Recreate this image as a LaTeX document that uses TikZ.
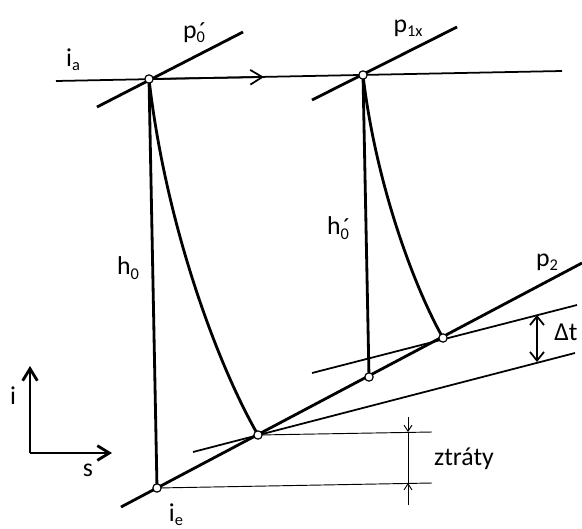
\documentclass[tikz,border=0pt]{standalone}
\usepackage{fontspec}
\setmainfont{Carlito}
\usetikzlibrary{arrows.meta}

\newcommand{\ix}[1]{\raisebox{-0.35ex}{\fontsize{14}{14}\selectfont #1}}
\newcommand{\pr}{\rlap{\raisebox{-0.1ex}{\fontsize{21}{21}\selectfont\kern0.1em ´}}}

\tikzset{
  thickline/.style={line width=2.4pt},
  thinline/.style={line width=1.5pt},
  dimline/.style={line width=0.8pt},
  pt/.style={circle, draw, fill=white, line width=1pt, inner sep=0pt, minimum size=0.25cm},
  lbl/.style={font=\fontsize{22}{26}\selectfont, inner sep=0pt}
}

\begin{document}
\begin{tikzpicture}[x=0.03cm, y=-0.03cm, >={Straight Barb[length=3.6mm, width=4.4mm]}]
  \useasboundingbox (0,0) rectangle (582,529);

  % state points
  \coordinate (A) at (149,79);
  \coordinate (C) at (363,75);
  \coordinate (E) at (157,488);
  \coordinate (B) at (258,435);
  \coordinate (D) at (369,377);
  \coordinate (F) at (443,338);

  % i_a line
  \coordinate (ia0) at (56,81);
  \coordinate (ia1) at (562,71);
  \coordinate (iamid) at (264,77);
  \draw[thinline] (ia0) -- (ia1);
  \draw[thinline, ->] (A) -- (iamid);

  % isobars
  \coordinate (p0a) at (97,107);
  \coordinate (p0b) at (243,32);
  \coordinate (p1a) at (312,100);
  \coordinate (p1b) at (457,27);
  \coordinate (p2a) at (121,507);
  \coordinate (p2b) at (582,263);
  \draw[thickline] (p0a) -- (p0b);
  \draw[thickline] (p1a) -- (p1b);
  \draw[thickline] (p2a) -- (p2b);

  \coordinate (up0) at (312,373);
  \coordinate (up1) at (577,305);
  \coordinate (lo0) at (193,452);
  \coordinate (lo1) at (575,353);
  \draw[thinline] (up0) -- (up1);
  \draw[thinline] (lo0) -- (lo1);

  % expansions
  \draw[thickline] (A) -- (E);
  \draw[thickline] (C) -- (D);
  \draw[thickline] (A) .. controls (165,220) and (215,360) .. (B);
  \draw[thickline] (C) .. controls (375,179) and (412,283) .. (F);

  % delta t
  \coordinate (dt0) at (537,315);
  \coordinate (dt1) at (537,362);
  \draw[thinline, <->, >={Straight Barb[length=2.6mm, width=4.2mm]}] (dt0) -- (dt1);

  % losses
  \coordinate (zt0) at (432,432);
  \coordinate (zt1) at (432,483);
  \coordinate (zd0) at (408,417);
  \coordinate (zd1) at (408,432);
  \coordinate (zd2) at (408,483);
  \coordinate (zd3) at (408,505);
  \draw[dimline] (B) -- (zt0);
  \draw[dimline] (E) -- (zt1);
  \draw[dimline, ->, >={Straight Barb[length=1.8mm, width=2.4mm]}] (zd0) -- (zd1);
  \draw[dimline, ->, >={Straight Barb[length=1.8mm, width=2.4mm]}] (zd3) -- (zd2);
  \draw[dimline] (zd1) -- (zd2);

  % circles
  \node[pt] (a) at (A) {};
  \node[pt] (c) at (C) {};
  \node[pt] (e) at (E) {};
  \node[pt] (b) at (B) {};
  \node[pt] (d) at (D) {};
  \node[pt] (f) at (F) {};

  % axes
  \coordinate (O) at (30,453);
  \coordinate (Oi) at (30,366);
  \coordinate (Os) at (112,453);
  \draw[thickline, ->] (O) -- (Oi);
  \draw[thickline, ->] (O) -- (Os);

  % labels
  \node[lbl] (lia) at (73,60) {i\ix{a}};
  \node[lbl] (lp0) at (194,33) {p\pr\ix{0}};
  \node[lbl] (lp1) at (408,28) {p\ix{1x}};
  \node[lbl] (lh0) at (128,268) {h\ix{0}};
  \node[lbl] (lh1) at (338,228) {h\pr\ix{0}};
  \node[lbl] (lp2) at (547,262) {p\ix{2}};
  \node[lbl] (ldt) at (566,332) {Δt};
  \node[lbl] (lzt) at (464,459) {ztráty};
  \node[lbl] (lie) at (176,515) {i\ix{e}};
  \node[lbl] (li) at (13,396) {i};
  \node[lbl] (ls) at (88,470) {s};
\end{tikzpicture}
\end{document}
